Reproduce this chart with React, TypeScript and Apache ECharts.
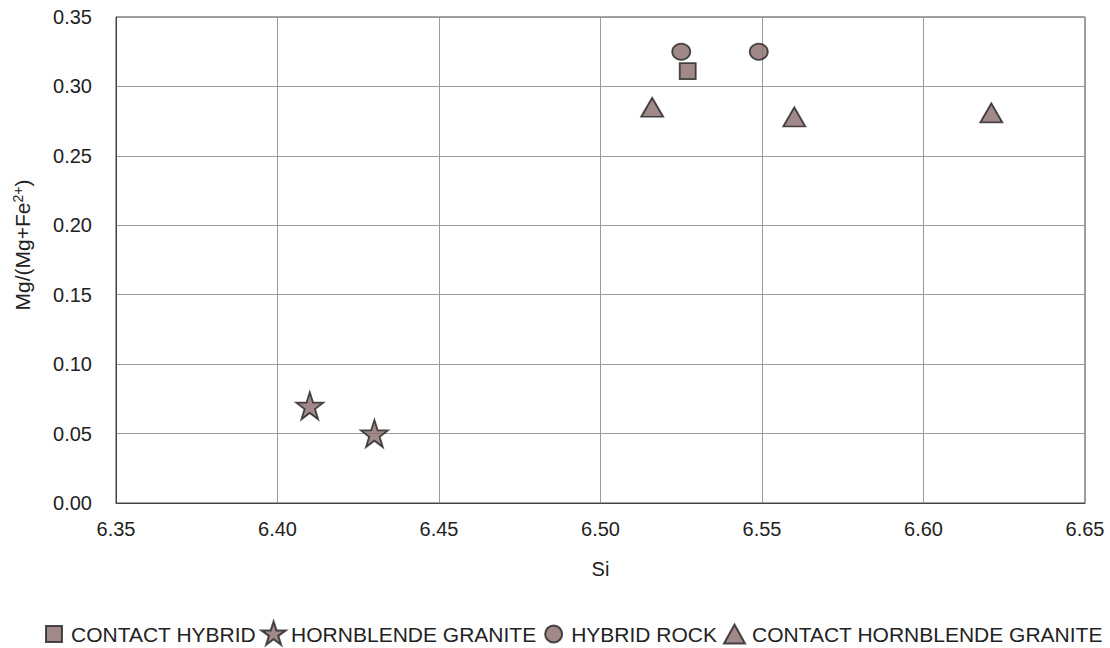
import React, { useEffect, useRef } from "react";
import * as echarts from "echarts";

const contactHybrid: [number, number][] = [[6.527, 0.311]];
const hornblendeGranite: [number, number][] = [
  [6.41, 0.07],
  [6.43, 0.05],
];
const hybridRock: [number, number][] = [
  [6.525, 0.325],
  [6.549, 0.325],
];
const contactHornblendeGranite: [number, number][] = [
  [6.516, 0.285],
  [6.56, 0.278],
  [6.621, 0.281],
];

const FILL = "#8a6a6b";
const STROKE = "#222";
const FONT = "Liberation Sans, Arial, sans-serif";

const STAR =
  "path://M50,0 L61.8,35.4 L98.6,35.4 L68.9,57.3 L80.2,92.7 L50,70.8 L19.8,92.7 L31.1,57.3 L1.4,35.4 L38.2,35.4 Z";

// legend icons drawn in a 25x28 box (moveTo points fix the bounding box)
const BOX = "M0,0 M25,28 ";
const ICON_SQUARE = "path://" + BOX + "M5,6 L21,6 L21,22 L5,22 Z";
const ICON_STAR =
  "path://" + BOX + "M12.5,1.5 L15.4,10.4 L24.7,10.4 L17.2,15.9 L20,24.8 L12.5,19.3 L5,24.8 L7.8,15.9 L0.3,10.4 L9.6,10.4 Z";
const ICON_CIRCLE = "path://" + BOX + "M4,14 A8.5,8.5 0 1,0 21,14 A8.5,8.5 0 1,0 4,14 Z";
const ICON_TRIANGLE = "path://" + BOX + "M12.5,4.5 L23,23.5 L2,23.5 Z";

export default function App() {
  const ref = useRef<HTMLDivElement>(null);
  useEffect(() => {
    if (!ref.current) return;
    const chart = echarts.init(ref.current, undefined, { renderer: "svg" });
    const itemStyle = { color: FILL, borderColor: STROKE, borderWidth: 1.8 };
    chart.setOption({
      animation: false,
      textStyle: { fontFamily: FONT },
      grid: { left: 116, right: 25, top: 17, bottom: 145, show: true, borderColor: "#444", borderWidth: 1 },
      legend: {
        bottom: -6,
        left: 35,
        itemGap: 4,
        itemWidth: 25,
        itemHeight: 28,
        textStyle: { fontSize: 21, color: "#222", fontFamily: FONT },
        data: [
          { name: "CONTACT HYBRID", icon: ICON_SQUARE },
          { name: "HORNBLENDE GRANITE", icon: ICON_STAR },
          { name: "HYBRID ROCK", icon: ICON_CIRCLE },
          { name: "CONTACT HORNBLENDE GRANITE", icon: ICON_TRIANGLE },
        ],
      },
      xAxis: {
        type: "value",
        min: 6.35,
        max: 6.65,
        interval: 0.05,
        name: "Si",
        nameLocation: "middle",
        nameGap: 56,
        nameTextStyle: { fontSize: 20, color: "#222" },
        axisLine: { show: true, lineStyle: { color: "#444" } },
        axisTick: { show: false },
        axisLabel: { fontSize: 20, color: "#222", margin: 16, formatter: (v: number) => v.toFixed(2) },
        splitLine: { show: true, lineStyle: { color: "#9a9a9a" } },
      },
      yAxis: {
        type: "value",
        min: 0,
        max: 0.35,
        interval: 0.05,
        name: "Mg/(Mg+Fe{sup|2+})",
        nameLocation: "middle",
        nameRotate: 90,
        nameGap: 82,
        nameTextStyle: {
          fontSize: 21,
          color: "#222",
          padding: [0, 0, 0, 30],
          rich: { sup: { fontSize: 14, verticalAlign: "top", color: "#222", padding: [0, 0, 9, 0] } },
        },
        axisLine: { show: true, lineStyle: { color: "#444" } },
        axisTick: { show: false },
        axisLabel: { fontSize: 20, color: "#222", margin: 24, formatter: (v: number) => v.toFixed(2) },
        splitLine: { show: true, lineStyle: { color: "#9a9a9a" } },
      },
      series: [
        { name: "CONTACT HYBRID", type: "scatter", symbol: "rect", symbolSize: 16, data: contactHybrid, itemStyle },
        { name: "HORNBLENDE GRANITE", type: "scatter", symbol: STAR, symbolSize: 27, data: hornblendeGranite, itemStyle },
        { name: "HYBRID ROCK", type: "scatter", symbol: "circle", symbolSize: [18, 16], data: hybridRock, itemStyle },
        { name: "CONTACT HORNBLENDE GRANITE", type: "scatter", symbol: "triangle", symbolSize: [22, 19], data: contactHornblendeGranite, itemStyle },
      ],
    });
    return () => chart.dispose();
  }, []);
  return (
    <div
      ref={ref}
      style={{ position: "fixed", left: 0, top: 0, width: 1110, height: 648, background: "#fff" }}
    />
  );
}
